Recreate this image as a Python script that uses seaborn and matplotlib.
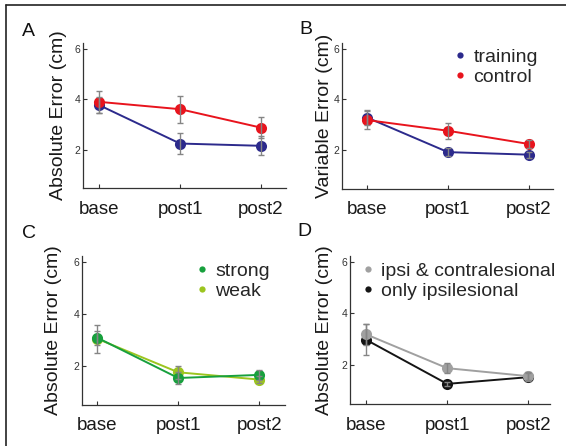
import numpy as np
import pandas as pd
import matplotlib
matplotlib.use("Agg")
import matplotlib.pyplot as plt
from matplotlib.lines import Line2D
import seaborn as sns

# phases on the x axis
phases = ["base", "post1", "post2"]

# A: absolute error, training vs control
abs_training = [3.76, 2.24, 2.15]
abs_training_err = [0.33, 0.43, 0.38]
abs_control = [3.89, 3.60, 2.87]
abs_control_err = [0.44, 0.53, 0.42]

# B: variable error, training vs control
var_training = [3.29, 1.93, 1.83]
var_training_err = [0.30, 0.15, 0.12]
var_control = [3.19, 2.77, 2.25]
var_control_err = [0.35, 0.32, 0.17]

# C: absolute error, strong vs weak
abs_strong = [3.07, 1.52, 1.64]
abs_strong_err = [0.27, 0.25, 0.20]
abs_weak = [3.03, 1.74, 1.46]
abs_weak_err = [0.55, 0.26, 0.12]

# D: absolute error, ipsi & contralesional vs only ipsilesional
abs_both = [3.18, 1.87, 1.56]
abs_both_err = [0.40, 0.20, 0.15]
abs_ipsi = [2.97, 1.26, 1.52]
abs_ipsi_err = [0.60, 0.08, 0.15]

NAVY = "#2c2a8c"
RED = "#e8141d"
GREEN = "#17a03d"
LIME = "#9cc51f"
GRAY = "#a0a0a0"
BLACK = "#141414"
ERRC = "#858585"

sns.set_theme(style="ticks")
plt.rcParams["font.family"] = ["Liberation Sans", "DejaVu Sans"]
plt.rcParams["axes.edgecolor"] = "#333333"
plt.rcParams["axes.linewidth"] = 0.9

W, H = 566, 446
fig = plt.figure(figsize=(W / 100, H / 100), dpi=100)


def px_axes(l, r, t, b):
    return fig.add_axes([l / W, 1 - b / H, (r - l) / W, (b - t) / H])


def panel(ax, series, ylabel, xlim, label_x, legend=None):
    # series: list of (name, means, errs, color, zorder)
    frames = []
    for name, m, e, c, z in series:
        frames.append(pd.DataFrame({"phase": phases, "x": range(len(phases)),
                                    "err": e, "val": m, "group": name}))
    df = pd.concat(frames, ignore_index=True)
    for name, m, e, c, z in series:
        sub = df[df["group"] == name]
        sns.lineplot(data=sub, x="x", y="val", color=c, marker="o",
                     markersize=8, markeredgewidth=0, linewidth=1.4,
                     ax=ax, zorder=z, legend=False)
    for name, m, e, c, z in series:
        sub = df[df["group"] == name]
        ax.errorbar(sub["x"], sub["val"], yerr=sub["err"], fmt="none",
                    ecolor=ERRC, elinewidth=1.0, capsize=2.2, capthick=1.0,
                    zorder=10)
    ax.set_xlim(*xlim)
    ax.set_ylim(0.48, 6.22)
    ax.set_xticks(range(len(phases)))
    ax.set_xticklabels(phases, fontsize=13.5, color="#1a1a1a")
    ax.set_yticks([2, 4, 6])
    ax.set_yticklabels(["2", "4", "6"], fontsize=7.5, color="#333333")
    ax.tick_params(direction="in", length=3, width=0.8, colors="#333333")
    ax.tick_params(axis="x", pad=9, labelcolor="#1a1a1a")
    ax.tick_params(axis="y", pad=2)
    ax.set_xlabel("")
    ax.set_ylabel(ylabel, fontsize=14, color="#1a1a1a")
    ax.yaxis.set_label_coords(label_x, 0.5)
    sns.despine(ax=ax)
    if legend is not None:
        lx, ly = legend
        handles = [Line2D([], [], color=c, marker="o", linestyle="none",
                          markersize=4.5, markeredgewidth=0)
                   for name, m, e, c, z in series]
        ax.legend(handles, [s[0] for s in series], loc="center left",
                  bbox_to_anchor=(lx / W, 1 - ly / H),
                  bbox_transform=fig.transFigure, frameon=False,
                  fontsize=14, borderpad=0, handlelength=0.6,
                  handletextpad=0.4, labelspacing=0.1, borderaxespad=0)


axA = px_axes(83, 286, 43, 188)
panel(axA, [("training", abs_training, abs_training_err, NAVY, 3),
            ("control", abs_control, abs_control_err, RED, 4)],
      "Absolute Error (cm)", (-0.2, 2.31), -0.079)

axB = px_axes(342, 553, 43, 189)
panel(axB, [("training", var_training, var_training_err, NAVY, 3),
            ("control", var_control, var_control_err, RED, 4)],
      "Variable Error (cm)", (-0.31, 2.30), -0.045, legend=(454, 67))

axC = px_axes(82, 285, 256, 405)
panel(axC, [("strong", abs_strong, abs_strong_err, GREEN, 4),
            ("weak", abs_weak, abs_weak_err, LIME, 3)],
      "Absolute Error (cm)", (-0.19, 2.32), -0.099, legend=(196, 281))

axD = px_axes(350, 550, 256, 404)
panel(axD, [("ipsi & contralesional", abs_both, abs_both_err, GRAY, 4),
            ("only ipsilesional", abs_ipsi, abs_ipsi_err, BLACK, 3)],
      "Absolute Error (cm)", (-0.2, 2.27), -0.085, legend=(362, 281))

# panel letters
for letter, (x, y) in zip("ABCD", [(22, 31), (299, 29), (22, 234), (297, 232)]):
    fig.text(x / W, 1 - y / H, letter, fontsize=14, ha="left", va="center",
             color="#111111")

# outer frame (top and left edges only)
fig.add_artist(Line2D([6 / W, 6 / W], [0, 1 - 5 / H], transform=fig.transFigure,
                      color="#222222", linewidth=1.2))
fig.add_artist(Line2D([6 / W, 1], [1 - 5 / H, 1 - 5 / H], transform=fig.transFigure,
                      color="#222222", linewidth=1.2))

fig.savefig("out.png", dpi=100)
